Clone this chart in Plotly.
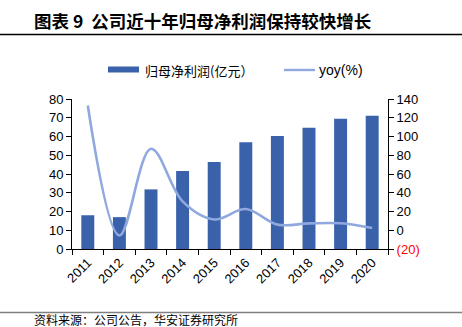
import plotly.graph_objects as go

years = ["2011", "2012", "2013", "2014", "2015", "2016", "2017", "2018", "2019", "2020"]
net_profit = [18.0, 17.0, 31.8, 41.6, 46.4, 56.9, 60.3, 64.7, 69.5, 71.1]
yoy = [133.0, -5.6, 87.0, 30.8, 11.5, 22.6, 6.0, 7.3, 7.4, 2.3]

y2_ticks = [-20, 0, 20, 40, 60, 80, 100, 120, 140]
y2_text = ["<span style='color:#FF0000'>(20)</span>"] + [str(v) for v in y2_ticks[1:]]

BAR_COLOR = "#3A62AB"
LINE_COLOR = "#8FA8DE"

W, H = 462, 327
L, R, T, B = 72, 74, 99, 78
pw, ph = W - L - R, H - T - B


def px(x):
    return (x - L) / pw


def py(y):
    return (H - B - y) / ph


tick_font = dict(family="Liberation Sans, Arial, sans-serif", size=13, color="#000000")
cjk = "Noto Sans CJK SC, sans-serif"

fig = go.Figure()
fig.add_trace(go.Bar(
    x=years, y=net_profit, name="归母净利润(亿元）",
    marker=dict(color=BAR_COLOR, line=dict(width=0)), width=0.41, yaxis="y",
))
fig.add_trace(go.Scatter(
    x=years, y=yoy, name="yoy(%)", mode="lines",
    line=dict(color=LINE_COLOR, width=2.6, shape="spline", smoothing=1.0), yaxis="y2",
))

fig.update_layout(
    width=W, height=H,
    margin=dict(l=L, r=R, t=T, b=B),
    paper_bgcolor="white", plot_bgcolor="white",
    showlegend=False,
    xaxis=dict(
        type="category", range=[-0.5, 9.5], tickson="boundaries", ticks="outside",
        ticklen=5, tickcolor="#000000", showline=True, linecolor="#000000", linewidth=1,
        tickangle=-45, tickfont=tick_font, showgrid=False, zeroline=False,
    ),
    yaxis=dict(
        range=[0, 80], dtick=10, ticks="outside", ticklen=5, tickcolor="#000000",
        showline=True, linecolor="#000000", linewidth=1, tickfont=tick_font,
        showgrid=False, zeroline=False,
    ),
    yaxis2=dict(
        range=[-20, 140], tickvals=y2_ticks, ticktext=y2_text, overlaying="y", side="right",
        ticks="outside", ticklen=5, tickcolor="#000000", showline=True, linecolor="#000000",
        linewidth=1, tickfont=tick_font, showgrid=False, zeroline=False,
    ),
)

# Legend drawn by hand: wide bar swatch and line swatch
fig.add_shape(type="rect", xref="paper", yref="paper", x0=px(108), x1=px(139), y0=py(72.5), y1=py(66.5),
              fillcolor=BAR_COLOR, line=dict(width=0))
fig.add_annotation(
    text="归母净利润(亿元）", xref="paper", yref="paper", x=px(143), y=py(70),
    xanchor="left", yanchor="middle", showarrow=False,
    font=dict(family=cjk, size=13, color="#000000"),
)
fig.add_shape(type="line", xref="paper", yref="paper", x0=px(284), x1=px(315), y0=py(70), y1=py(70),
              line=dict(color=LINE_COLOR, width=2.4))
fig.add_annotation(
    text="yoy(%)", xref="paper", yref="paper", x=px(317), y=py(70),
    xanchor="left", yanchor="middle", showarrow=False,
    font=dict(family="Liberation Sans, Arial, sans-serif", size=14, color="#000000"),
)

# Title, separator rules and source note
fig.add_annotation(
    text="<b>图表 9  公司近十年归母净利润保持较快增长</b>", xref="paper", yref="paper",
    x=px(32), y=py(20), xanchor="left", yanchor="middle", showarrow=False,
    font=dict(family=cjk, size=17.5, color="#000000"),
)
fig.add_shape(type="line", xref="paper", yref="paper", x0=px(0), x1=px(W), y0=py(34.5), y1=py(34.5),
              line=dict(color="#000000", width=1.3))
fig.add_shape(type="line", xref="paper", yref="paper", x0=px(0), x1=px(W), y0=py(312.5), y1=py(312.5),
              line=dict(color="#808080", width=1.3))
fig.add_annotation(
    text="资料来源：公司公告，华安证券研究所", xref="paper", yref="paper",
    x=px(32), y=py(319.5), xanchor="left", yanchor="middle", showarrow=False,
    font=dict(family=cjk, size=12, color="#000000"),
)

fig.write_html("out.html")
